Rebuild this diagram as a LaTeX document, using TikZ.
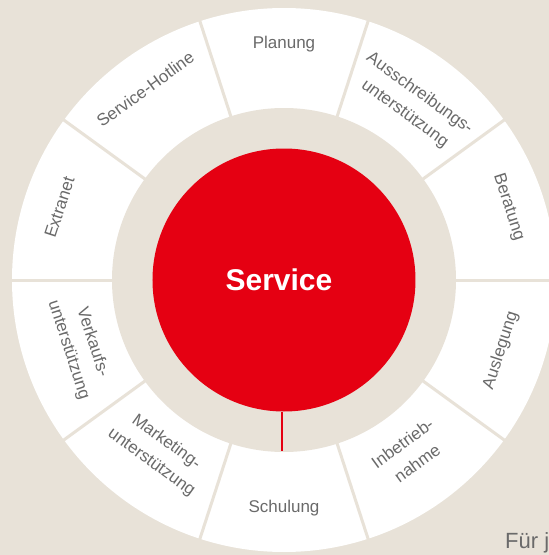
\documentclass[tikz,border=0pt]{standalone}
\usepackage{fontspec}
\setmainfont{Liberation Sans}
\definecolor{bg}{HTML}{E8E2D8}
\definecolor{rd}{HTML}{E50012}
\definecolor{tx}{HTML}{6A6A6A}
\begin{document}
\begin{tikzpicture}[x=1pt,y=1pt,
  lbl/.style={text=tx, font=\fontsize{17}{25}\selectfont, align=center, inner sep=0pt},
  sep/.style={bg, line width=3pt}]
\clip (-284,-275) rectangle (265,280);
\fill[bg] (-284,-275) rectangle (265,280);
\fill[white] (0,0) circle (272);
\fill[bg] (0,0) circle (172);
\foreach \a in {0,36,...,324} \draw[sep] (\a:170) -- (\a:274);
\node[circle, fill=rd, minimum size=263pt, inner sep=0pt] (core) at (0,0) {};
\node[text=white, font=\bfseries\fontsize{30}{30}\selectfont, inner sep=0pt] (svc) at (-5,0) {Service};
\coordinate (tip) at (-2,-171);
\draw[rd, line width=2.5pt] (core.south -| tip) -- (tip);
\node[lbl] (planung) at (90:236) {Planung};
\node[lbl, rotate=-36] (ausschr) at (54:218) {Ausschreibungs-\\unterstützung};
\node[lbl, rotate=-72] (beratung) at (18:236) {Beratung};
\node[lbl, rotate=72] (auslegung) at (-18:228) {Auslegung};
\node[lbl, rotate=36] (inbetrieb) at (-54:214) {Inbetrieb-\\nahme};
\node[lbl] (schulung) at (-90:228) {Schulung};
\node[lbl, rotate=-36] (marketing) at (-126:213) {Marketing-\\unterstützung};
\node[lbl, rotate=-72] (verkauf) at (-162:214) {Verkaufs-\\unterstützung};
\node[lbl, rotate=72] (extranet) at (162:236) {Extranet};
\node[lbl, rotate=36] (hotline) at (126:236) {Service-Hotline};
\node[anchor=base west, text=tx, font=\fontsize{22}{22}\selectfont, inner sep=0pt] (fuer) at (221,-268) {Für j};
\end{tikzpicture}
\end{document}
